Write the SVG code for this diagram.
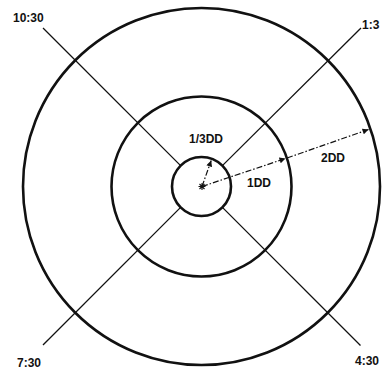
<svg xmlns="http://www.w3.org/2000/svg" width="382" height="371" viewBox="0 0 382 371">
<style>
.ring{fill:none;stroke:#111;stroke-width:2.6}
.ray{stroke:#111;stroke-width:1.3;fill:none}
.dim{stroke:#111;stroke-width:1.2;fill:none;stroke-dasharray:6 2 1.5 2}
text{font-family:"Liberation Sans",Arial,sans-serif;font-weight:bold;font-size:12px;fill:#111}
</style>
<defs>
<marker id="ah" viewBox="0 0 10 10" refX="10" refY="5" markerWidth="7" markerHeight="6" markerUnits="userSpaceOnUse" orient="auto">
<path d="M0,0 L10,5 L0,10 Z" fill="#111"/>
</marker>
</defs>
<rect width="382" height="371" fill="#fff"/>
<g id="rings">
<circle id="outer" class="ring" cx="201.5" cy="186.5" r="178.5"/>
<circle id="middle" class="ring" cx="201.5" cy="186.5" r="90"/>
<circle id="inner" class="ring" cx="201.5" cy="186.5" r="29.5"/>
</g>
<g id="connectors">
<line class="ray" x1="43" y1="28" x2="180.6" y2="165.6"/>
<line class="ray" x1="361" y1="28" x2="222.4" y2="165.6"/>
<line class="ray" x1="43" y1="345" x2="180.6" y2="207.4"/>
<line class="ray" x1="360.5" y1="345.5" x2="222.4" y2="207.4"/>
<path class="dim" d="M202,186.5 L211.2,160.5" marker-end="url(#ah)"/>
<path class="dim" d="M202,186.5 L285.5,158.5" marker-end="url(#ah)"/>
<path class="dim" d="M287,158 L368.5,129.5" marker-end="url(#ah)"/>
</g>
<g id="center">
<path d="M198.5,186.5 H205.5 M202,183 V190 M199.5,184 L204.5,189 M204.5,184 L199.5,189" stroke="#111" stroke-width="1.1"/>
</g>
<g id="labels">
<text x="13" y="22" font-size="12.5">10:30</text>
<text x="362" y="29">1:3</text>
<text x="17" y="366.5" font-size="12.5">7:30</text>
<text x="355" y="365" font-size="12.5">4:30</text>
<text x="189" y="143">1/3DD</text>
<text x="247" y="186.5">1DD</text>
<text x="321" y="162">2DD</text>
</g>
</svg>
